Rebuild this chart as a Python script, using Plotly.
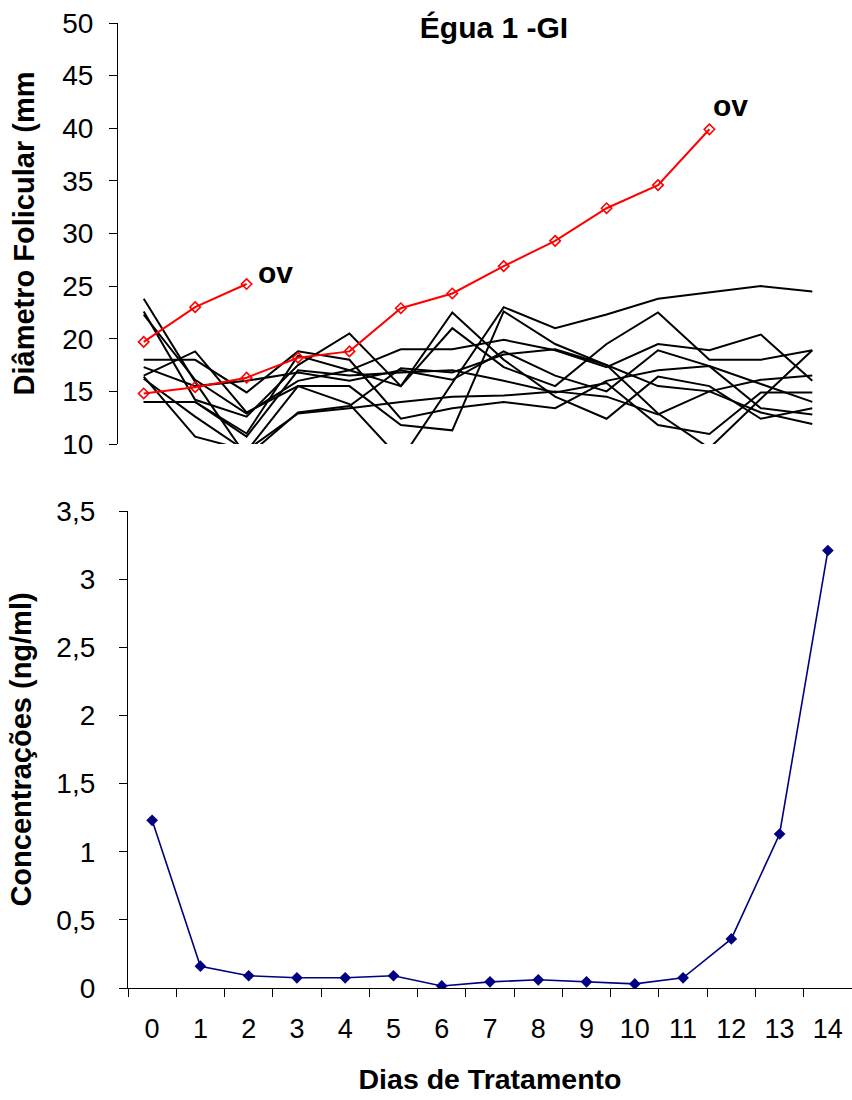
import plotly.graph_objects as go

# ---------------- data ----------------
days_top = [str(d) for d in range(14)]
days_bottom = [str(d) for d in range(15)]

red_a = [19.7, 23.0, 25.2]
red_b = [14.8, 15.4, 16.3, 18.2, 18.8, 22.9, 24.3, 26.9, 29.3, 32.4, 34.6, 39.9]

black_1 = [16.4, 10.7, 9.4, 12.9, 13.4, 14.0, 14.5, 14.6, 15.0, 14.5, 12.8, 15.0, 16.1, 16.5]
black_2 = [22.6, 14.2, 12.6, 17.5, 20.5, 15.5, 21.0, 17.3, 15.5, 19.5, 22.5, 18.0, 18.0, 18.9]
black_3 = [22.3, 16.1, 12.9, 16.0, 17.0, 19.0, 19.0, 19.9, 18.9, 17.3, 19.5, 18.9, 20.4, 16.0]
black_4 = [18.0, 18.0, 14.9, 18.8, 18.0, 12.4, 13.4, 14.0, 13.4, 16.0, 17.0, 17.4, 15.7, 14.0]
black_5 = [17.3, 15.5, 16.0, 16.8, 16.0, 17.0, 16.1, 18.8, 16.5, 15.0, 18.9, 17.4, 13.4, 12.8]
black_6 = [16.5, 18.8, 13.0, 15.5, 15.5, 11.8, 11.3, 22.6, 19.5, 17.5, 12.9, 9.6, 14.3, 18.9]
black_7 = [16.2, 12.6, 9.3, 15.5, 13.8, 8.5, 15.8, 23.0, 21.0, 22.3, 23.8, 24.4, 25.0, 24.5]
black_8 = [14.0, 14.0, 11.0, 18.4, 17.0, 15.5, 22.5, 18.0, 14.5, 12.4, 16.4, 15.5, 12.4, 13.4]
black_9 = [14.0, 14.0, 10.7, 17.0, 16.5, 16.8, 17.0, 16.0, 14.9, 15.8, 11.8, 10.95, 14.9, 14.9]
black_10 = [23.8, 15.9, 8.8, 13.0, 13.6, 17.2, 16.8, 18.5, 19.0, 17.5, 15.5, 15.0, 13.0, 11.9]
black_series = [black_1, black_2, black_3, black_4, black_5, black_6, black_7, black_8, black_9, black_10]

conc = [1.23, 0.16, 0.09, 0.075, 0.075, 0.09, 0.015, 0.045, 0.06, 0.045, 0.03, 0.075, 0.36, 1.13, 3.21]

top_ticks = [10, 15, 20, 25, 30, 35, 40, 45, 50]
bottom_tickvals = [0, 0.5, 1, 1.5, 2, 2.5, 3, 3.5]
bottom_ticktext = ["0", "0,5", "1", "1,5", "2", "2,5", "3", "3,5"]

FONT = "Arial, Liberation Sans, sans-serif"

fig = go.Figure()

for s in black_series:
    fig.add_trace(go.Scatter(x=days_top[:len(s)], y=s, mode="lines",
                             line=dict(color="black", width=2),
                             xaxis="x", yaxis="y", hoverinfo="skip"))

for s in (red_a, red_b):
    fig.add_trace(go.Scatter(x=days_top[:len(s)], y=s, mode="lines+markers",
                             line=dict(color="#FF0000", width=2),
                             marker=dict(symbol="diamond-open", size=8, color="#FF0000",
                                         line=dict(width=1.6, color="#FF0000")),
                             xaxis="x", yaxis="y"))

fig.add_trace(go.Scatter(x=days_bottom, y=conc, mode="lines+markers",
                         line=dict(color="#000080", width=1.6),
                         marker=dict(symbol="diamond", size=9, color="#000080"),
                         xaxis="x2", yaxis="y2"))

W, H = 852, 1100
ml, mr, mt, mb = 118, 0, 23, 112
pw = W - ml - mr
ph = H - mt - mb

fig.update_layout(
    width=W, height=H, template="none",
    margin=dict(l=ml, r=mr, t=mt, b=mb, pad=0),
    paper_bgcolor="white", plot_bgcolor="white",
    showlegend=False,
    font=dict(family=FONT, color="black", size=26),
    title=dict(text="<b>Égua 1 -GI</b>", x=494 / W, xanchor="center",
               y=1 - 27 / H, yanchor="middle", font=dict(size=30, family=FONT)),
    xaxis=dict(domain=[0, 720 / pw], type="category", range=[-0.5, 13.5],
               showline=False, showticklabels=False, ticks="", showgrid=False,
               zeroline=False, anchor="y"),
    yaxis=dict(domain=[(988 - 444) / ph, 1], range=[10, 50], tickvals=top_ticks,
               showline=True, linecolor="black", linewidth=1.2, ticks="outside",
               ticklen=8, tickcolor="black", showgrid=False, zeroline=False,
               tickfont=dict(size=28), ticklabelstandoff=10,
               title=dict(text="<b>Diâmetro Folicular (mm</b>", font=dict(size=29),
                          standoff=18),
               anchor="x"),
    xaxis2=dict(domain=[10 / pw, 1], type="category", range=[-0.5, 14.5],
                showline=True, linecolor="black", linewidth=1.2, ticks="outside",
                tickson="boundaries", ticklen=8, tickcolor="black", showgrid=False,
                zeroline=False, tickfont=dict(size=27), ticklabelstandoff=16,
                title=dict(text="<b>Dias de Tratamento</b>", font=dict(size=28.5),
                           standoff=26),
                anchor="y2"),
    yaxis2=dict(domain=[0, (988 - 511) / ph], range=[0, 3.5],
                tickvals=bottom_tickvals, ticktext=bottom_ticktext,
                showline=True, linecolor="black", linewidth=1.2, ticks="outside",
                ticklen=8, tickcolor="black", showgrid=False, zeroline=False,
                tickfont=dict(size=28), ticklabelstandoff=18,
                title=dict(text="<b>Concentrações (ng/ml)</b>", font=dict(size=29),
                           standoff=16),
                anchor="x2"),
)

fig.add_annotation(x="2", y=26.3, xref="x", yref="y", text="<b>ov</b>",
                   showarrow=False, xanchor="left", xshift=9,
                   font=dict(size=30, family=FONT))
fig.add_annotation(x="11", y=42.2, xref="x", yref="y", text="<b>ov</b>",
                   showarrow=False, xanchor="left", xshift=2,
                   font=dict(size=30, family=FONT))

fig.write_html("out.html")
